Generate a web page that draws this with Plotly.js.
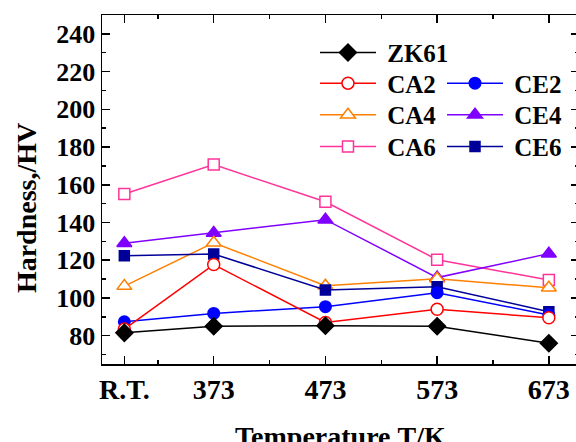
<!DOCTYPE html>
<html>
<head>
<meta charset="utf-8">
<script src="https://cdn.plot.ly/plotly-3.0.1.min.js"></script>
<style>
html,body{margin:0;padding:0;overflow:hidden;background:#fff;}
#chart{width:580px;height:442px;}
</style>
</head>
<body>
<div id="chart"></div>
<script>
// Temperatures (K); R.T. is taken as 293 K
const temps = [293, 373, 473, 573, 673];
const tickLabels = ['R.T.', '373', '473', '573', '673'];

const ZK61 = [81.5, 85.0, 85.3, 85.0, 76.0];
const CA2  = [83.5, 117.7, 87.0, 94.0, 89.5];
const CE2  = [87.4, 91.8, 95.4, 102.8, 91.0];
const CA4  = [106.3, 129.3, 106.5, 110.2, 105.4];
const CE4  = [129.0, 134.5, 141.5, 110.8, 123.5];
const CA6  = [155.1, 170.7, 151.0, 120.3, 109.5];
const CE6  = [122.4, 123.3, 104.2, 106.0, 92.7];

const FONT = 'Liberation Serif, Times New Roman, serif';
const NB = '\u00a0';

function tr(name, y, color, symbol, size, legend, fill) {
  return {
    x: temps, y: y, name: NB + name, type: 'scatter', mode: 'lines+markers',
    line: {color: color, width: 1.5},
    marker: {symbol: symbol, size: size, color: fill || color,
             line: {color: color, width: 1.5}},
    legend: legend
  };
}

const data = [
  tr('CA6', CA6, '#ff3399', 'square', 11, 'legend4', '#ffffff'),
  tr('CE4', CE4, '#8000ff', 'triangle-up', 13, 'legend6'),
  tr('CA4', CA4, '#ff8000', 'triangle-up', 13, 'legend3', '#ffffff'),
  tr('CE6', CE6, '#000099', 'square', 10, 'legend7'),
  tr('CE2', CE2, '#0000ff', 'circle', 11.5, 'legend5'),
  tr('CA2', CA2, '#ff0000', 'circle', 12, 'legend2', '#ffffff'),
  tr('ZK61', ZK61, '#000000', 'diamond', 13, 'legend')
];

function leg(x, y) {
  return {
    x: x, xanchor: 'left', y: y, yanchor: 'middle',
    orientation: 'v', itemwidth: 56,
    bgcolor: 'rgba(0,0,0,0)', borderwidth: 0,
    font: {family: FONT, size: 25, color: '#000', weight: 'bold'}
  };
}

const colA = 0.4465, colB = 0.7128;

const layout = {
  width: 580, height: 442,
  margin: {l: 102, r: 1, t: 15, b: 78},
  paper_bgcolor: '#fff', plot_bgcolor: '#fff',
  showlegend: true,
  legend: leg(colA, 0.892),
  legend2: leg(colA, 0.804),
  legend3: leg(colA, 0.7135),
  legend4: leg(colA, 0.6226),
  legend5: leg(colB, 0.804),
  legend6: leg(colB, 0.7135),
  legend7: leg(colB, 0.6226),
  xaxis: {
    range: [273, 700], showgrid: false, zeroline: false,
    tickmode: 'array', tickvals: temps, ticktext: tickLabels,
    ticks: 'inside', ticklen: 8, tickwidth: 1.5, tickcolor: '#000',
    showline: true, linecolor: '#000', linewidth: 1.5, mirror: 'allticks',
    tickfont: {family: FONT, size: 28, color: '#000', weight: 'bold'},
    minor: {tickmode: 'array', tickvals: [323, 423, 523, 623], ticks: 'inside',
            ticklen: 4, tickwidth: 1.5, tickcolor: '#000'}
  },
  yaxis: {
    range: [65, 250], showgrid: false, zeroline: false,
    tickmode: 'linear', tick0: 0, dtick: 20,
    ticks: 'inside', ticklen: 8, tickwidth: 1.5, tickcolor: '#000',
    showline: true, linecolor: '#000', linewidth: 1.5, mirror: 'allticks',
    tickfont: {family: FONT, size: 26, color: '#000', weight: 'bold'},
    minor: {tickmode: 'linear', tick0: 0, dtick: 10, ticks: 'inside',
            ticklen: 4, tickwidth: 1.5, tickcolor: '#000'}
  },
  annotations: [
    {text: 'Temperature,T/K', xref: 'paper', yref: 'paper', x: 0.501, y: -0.209,
     xanchor: 'center', yanchor: 'middle', showarrow: false,
     font: {family: FONT, size: 28, color: '#000', weight: 'bold'}},
    {text: 'Hardness,/HV', xref: 'paper', yref: 'paper', x: -0.157, y: 0.447,
     xanchor: 'center', yanchor: 'middle', showarrow: false, textangle: -90,
     font: {family: FONT, size: 28, color: '#000', weight: 'bold'}}
  ]
};

Plotly.newPlot('chart', data, layout, {displayModeBar: false, staticPlot: true});
</script>
</body>
</html>
